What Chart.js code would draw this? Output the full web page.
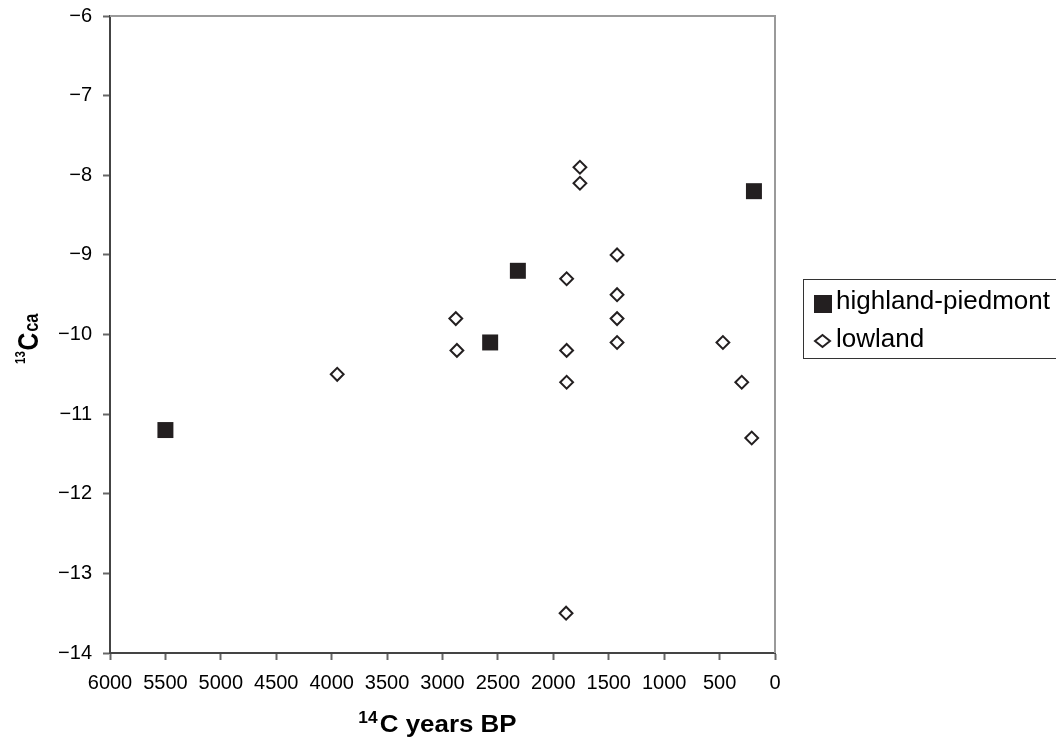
<!DOCTYPE html>
<html>
<head>
<meta charset="utf-8">
<script src="https://cdn.jsdelivr.net/npm/chart.js@4"></script>
<style>
  html, body { margin: 0; padding: 0; background: #fff; }
  #c { display: block; }
</style>
</head>
<body>
<canvas id="c" width="1056" height="745"></canvas>
<script>
// ---- data ----
const xTickValues = [6000, 5500, 5000, 4500, 4000, 3500, 3000, 2500, 2000, 1500, 1000, 500, 0];
const xTickLabels = ['6000', '5500', '5000', '4500', '4000', '3500', '3000', '2500', '2000', '1500', '1000', '500', '0'];
const yTickValues = [-14, -13, -12, -11, -10, -9, -8, -7, -6];
const yTickLabels = ['\u221214', '\u221213', '\u221212', '\u221211', '\u221210', '\u22129', '\u22128', '\u22127', '\u22126'];

const seriesNames = ['highland-piedmont', 'lowland'];

const highlandYears = [5500, 2570, 2320, 190];
const highlandD13C  = [-11.2, -10.1, -9.2, -8.2];

const lowlandYears = [3950, 2880, 2870, 1880, 1880, 1880, 1885, 1760, 1760, 1425, 1425, 1425, 1425, 470, 300, 210];
const lowlandD13C  = [-10.5, -9.8, -10.2, -9.3, -10.2, -10.6, -13.5, -7.9, -8.1, -9.0, -9.5, -9.8, -10.1, -10.1, -10.6, -11.3];

const FONT = "'Liberation Sans', Arial, Helvetica, sans-serif";
const INK = '#231f20';

function toPoints(xs, ys) { return xs.map((x, i) => ({ x: x, y: ys[i] })); }

const titlesAndFrame = {
  id: 'titlesAndFrame',
  beforeDatasetsDraw(chart) {
    const ctx = chart.ctx, a = chart.chartArea;
    ctx.save();
    ctx.strokeStyle = '#9a9a9a';
    ctx.lineWidth = 2;
    ctx.beginPath();
    ctx.moveTo(a.left, a.top);
    ctx.lineTo(a.right, a.top);
    ctx.lineTo(a.right, a.bottom);
    ctx.stroke();
    ctx.restore();
  },
  afterDraw(chart) {
    const ctx = chart.ctx, a = chart.chartArea;
    ctx.save();
    ctx.fillStyle = '#000';
    ctx.textBaseline = 'alphabetic';
    ctx.textAlign = 'left';

    // X axis title: 14C years BP
    const cx = (a.left + a.right) / 2 - 5;
    const sx = 1.08;
    ctx.font = 'bold 16px ' + FONT;
    const wSup = ctx.measureText('14').width;
    ctx.font = 'bold 24px ' + FONT;
    const wMain = ctx.measureText('C years BP').width;
    const total = (wSup + 2 + wMain) * sx;
    let x0 = cx - total / 2;
    ctx.save();
    ctx.translate(x0, 0);
    ctx.scale(sx, 1);
    ctx.font = 'bold 16px ' + FONT;
    ctx.fillText('14', 0, 723);
    ctx.font = 'bold 24px ' + FONT;
    ctx.fillText('C years BP', wSup + 2, 732);
    ctx.restore();

    // Y axis title: 13Cca (rotated)
    ctx.save();
    ctx.translate(38, 364);
    ctx.rotate(-Math.PI / 2);
    ctx.scale(0.82, 1);
    ctx.font = 'bold 14px ' + FONT;
    const w13 = ctx.measureText('13').width;
    ctx.fillText('13', 0, -13);
    ctx.font = 'bold 30px ' + FONT;
    const wC = ctx.measureText('C').width;
    ctx.fillText('C', w13 + 1, 0);
    ctx.font = 'bold 20px ' + FONT;
    ctx.fillText('ca', w13 + 1 + wC + 1, 0);
    ctx.restore();

    // Legend
    ctx.strokeStyle = '#333';
    ctx.lineWidth = 1;
    ctx.strokeRect(803.5, 279.5, 300, 79);
    ctx.fillStyle = INK;
    ctx.fillRect(814, 295, 18, 18);
    ctx.beginPath();
    ctx.moveTo(815, 341);
    ctx.lineTo(822.5, 335);
    ctx.lineTo(830, 341);
    ctx.lineTo(822.5, 347);
    ctx.closePath();
    ctx.fillStyle = '#fff';
    ctx.fill();
    ctx.strokeStyle = INK;
    ctx.lineWidth = 2;
    ctx.stroke();
    ctx.fillStyle = '#000';
    ctx.font = '26px ' + FONT;
    ctx.fillText(seriesNames[0], 836, 309);
    ctx.fillText(seriesNames[1], 836, 347);
    ctx.restore();
  }
};

new Chart(document.getElementById('c'), {
  type: 'scatter',
  data: {
    datasets: [
      {
        label: seriesNames[0],
        data: toPoints(highlandYears, highlandD13C),
        pointStyle: 'rect',
        pointRadius: 11.3,
        pointHoverRadius: 11.3,
        backgroundColor: INK,
        borderColor: INK,
        borderWidth: 0
      },
      {
        label: seriesNames[1],
        data: toPoints(lowlandYears, lowlandD13C),
        pointStyle: 'rectRot',
        pointRadius: 6.4,
        pointHoverRadius: 6.4,
        backgroundColor: '#fff',
        borderColor: INK,
        borderWidth: 2
      }
    ]
  },
  options: {
    responsive: false,
    devicePixelRatio: 1,
    animation: false,
    layout: { padding: { left: 0, top: 16, right: 281, bottom: 0 } },
    plugins: { legend: { display: false }, tooltip: { enabled: false } },
    scales: {
      x: {
        type: 'linear',
        reverse: true,
        min: 0,
        max: 6000,
        afterBuildTicks: s => { s.ticks = xTickValues.map(v => ({ value: v })); },
        afterFit: s => { s.height = 92; s.paddingLeft = 0; s.paddingRight = 0; },
        ticks: {
          autoSkip: false,
          maxRotation: 0,
          padding: 11,
          color: '#000',
          font: { family: FONT, size: 20 },
          callback: v => xTickLabels[xTickValues.indexOf(v)]
        },
        grid: { drawOnChartArea: false, drawTicks: true, tickLength: 7, tickColor: '#666', tickWidth: 2 },
        border: { display: true, color: '#444', width: 2 }
      },
      y: {
        type: 'linear',
        min: -14,
        max: -6,
        afterBuildTicks: s => { s.ticks = yTickValues.map(v => ({ value: v })); },
        afterFit: s => { s.width = 110; s.paddingTop = 0; s.paddingBottom = 0; },
        ticks: {
          autoSkip: false,
          padding: 11,
          color: '#000',
          font: { family: FONT, size: 20 },
          callback: v => yTickLabels[yTickValues.indexOf(v)]
        },
        grid: { drawOnChartArea: false, drawTicks: true, tickLength: 7, tickColor: '#666', tickWidth: 2 },
        border: { display: true, color: '#444', width: 2 }
      }
    }
  },
  plugins: [titlesAndFrame]
});
</script>
</body>
</html>
